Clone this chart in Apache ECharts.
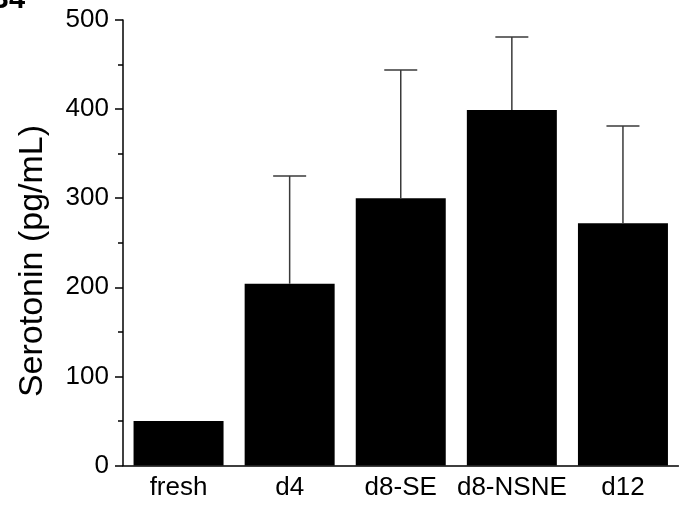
<!DOCTYPE html>
<html>
<head>
<meta charset="utf-8">
<script src="https://cdn.jsdelivr.net/npm/echarts@6/dist/echarts.min.js"></script>
<style>html,body{margin:0;padding:0;background:#fff;}#c{width:679px;height:514px;}</style>
</head>
<body>
<div id="c"></div>
<script>
var categories = ['fresh', 'd4', 'd8-SE', 'd8-NSNE', 'd12'];
var means = [50, 204, 300, 399, 272];
var errorTops = [null, 325, 444, 481, 381];
var yTicks = [0, 100, 200, 300, 400, 500];

var chart = echarts.init(document.getElementById('c'), null, {renderer: 'canvas'});
var FONT = 'Liberation Sans, Arial, sans-serif';
var errData = categories.map(function (c, i) { return [i, means[i], errorTops[i] == null ? means[i] : errorTops[i]]; });

chart.setOption({
  animation: false,
  backgroundColor: '#fff',
  grid: {left: 123, right: 0.5, top: 20, bottom: 48.5, containLabel: false},
  graphic: [{
    type: 'text', left: -12, top: -15,
    style: {text: 'B4', font: 'bold 29px ' + FONT, fill: '#000'}
  }, {
    type: 'text', x: 33, y: 261, rotation: Math.PI / 2,
    style: {text: 'Serotonin (pg/mL)', font: '34px ' + FONT, fill: '#000', align: 'center', verticalAlign: 'middle'}
  }],
  xAxis: {
    type: 'category',
    data: categories,
    axisLine: {lineStyle: {color: '#000', width: 1.5}},
    axisTick: {show: false},
    axisLabel: {color: '#000', fontSize: 26, fontFamily: FONT, margin: 9, interval: 0}
  },
  yAxis: {
    type: 'value',
    min: 0, max: 500, interval: 100,
    axisLine: {show: true, lineStyle: {color: '#000', width: 1.5}},
    axisTick: {show: true, length: 8, lineStyle: {color: '#000', width: 1.5}},
    minorTick: {show: true, splitNumber: 2, length: 5, lineStyle: {color: '#000', width: 1.5}},
    splitLine: {show: false},
    axisLabel: {color: '#000', fontSize: 26, fontFamily: FONT, margin: 14,
      formatter: function (v) { return yTicks.indexOf(v) >= 0 ? String(v) : ''; }}
  },
  series: [{
    type: 'bar',
    data: means,
    barWidth: 90,
    itemStyle: {color: '#000'},
    z: 2
  }, {
    type: 'custom',
    data: errData,
    z: 3,
    renderItem: function (params, api) {
      var x = api.value(0);
      if (api.value(2) <= api.value(1)) { return null; }
      var p0 = api.coord([x, api.value(1)]);
      var p1 = api.coord([x, api.value(2)]);
      var hw = 16.5;
      var st = {stroke: '#3a3a3a', lineWidth: 1.5};
      return {type: 'group', children: [
        {type: 'line', shape: {x1: p0[0], y1: p0[1], x2: p1[0], y2: p1[1]}, style: st},
        {type: 'line', shape: {x1: p1[0] - hw, y1: p1[1], x2: p1[0] + hw, y2: p1[1]}, style: st}
      ]};
    }
  }]
});
</script>
</body>
</html>
